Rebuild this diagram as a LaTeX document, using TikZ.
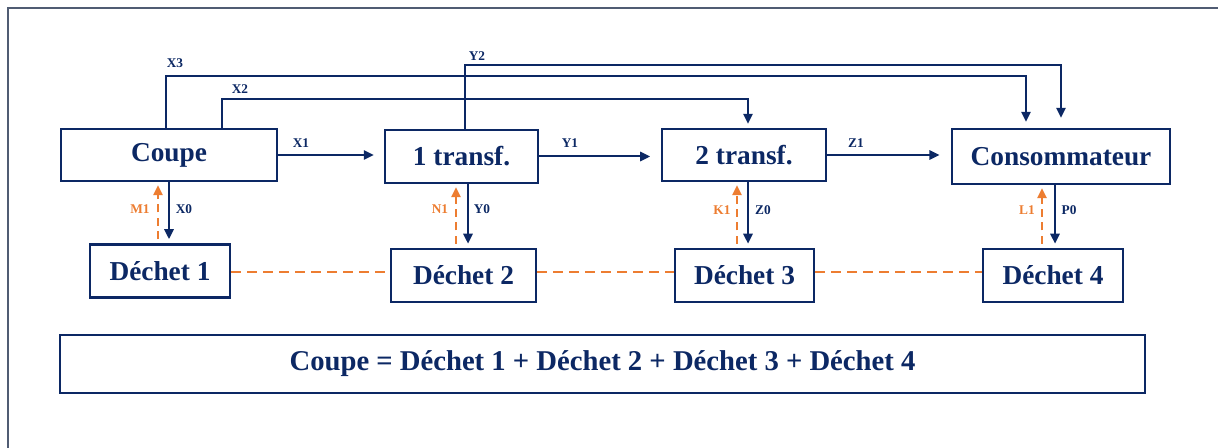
\documentclass[tikz,border=0pt]{standalone}
\usepackage{fontspec}
\setmainfont{Liberation Serif}
\usepackage{tikz}
\usepackage{xcolor}
\usetikzlibrary{arrows.meta, calc, positioning}

\definecolor{navy}{RGB}{12,40,100}
\definecolor{peche}{RGB}{237,125,49}
\definecolor{cadre}{RGB}{80,92,115}

\tikzset{
    boite/.style={draw=navy, line width=1.8pt, inner sep=0pt, text=navy, font=\bfseries\fontsize{20.5}{24}\selectfont},
    lbl/.style={inner sep=0pt, text=navy, font=\bfseries\fontsize{10}{12}\selectfont},
    lblo/.style={lbl, text=peche},
    flux/.style={draw=navy, line width=1.5pt, -{Triangle[length=7.5pt, width=7pt]}},
    retour/.style={draw=peche, line width=1.5pt, dash pattern=on 6pt off 4pt, -{Triangle[length=7.5pt, width=7pt]}},
    lien/.style={draw=peche, line width=1.5pt, dash pattern=on 7.5pt off 4.5pt}
}

\begin{document}
\begin{tikzpicture}[x=0.75pt, y=-0.75pt]
                    \path[fill=white, use as bounding box] (0,0) rectangle (1218,448);
                    \draw[cadre, line width=1.5pt] (8,448) -- (8,8) -- (1218,8);

                    \node[boite, minimum width=162pt, minimum height=39pt] (coupe) at (169,155) {Coupe};
                    \node[boite, minimum width=114.75pt, minimum height=39.75pt] (transf1) at (461.5,156.5) {1 transf.};
                    \node[boite, minimum width=123pt, minimum height=39pt] (transf2) at (744,155) {2 transf.};
                    \node[boite, minimum width=163.5pt, minimum height=41.25pt] (conso) at (1061,156.5) {Consommateur};

                    \foreach \i/\x/\y/\w in {1/160/271/105pt, 2/463.5/275.5/108.75pt, 3/744.5/275.5/104.25pt, 4/1053/275.5/105pt} {
                        \node[boite, minimum width=\w, minimum height=40pt] (dechet\i) at (\x,\y) {Déchet \i};
                    }

                    \node[boite, minimum width=813.75pt, minimum height=43.5pt, font=\bfseries\fontsize{21.5}{25}\selectfont] (somme) at (602.5,364) {Coupe = Déchet 1 + Déchet 2 + Déchet 3 + Déchet 4};

                    \coordinate (niv3) at (0,76);
                    \coordinate (niv2) at (0,99);
                    \coordinate (nivy) at (0,65);
                    \coordinate (nivd) at (0,272);

                    \draw[flux, shorten >=7.5pt] (coupe.east) -- (coupe.east -| transf1.west);
                    \draw[flux, shorten >=8pt] (transf1.east) -- (transf1.east -| transf2.west);
                    \draw[flux, shorten >=8.5pt] (transf2.east) -- (transf2.east -| conso.west);

                    \coordinate (x3a) at ($(coupe.north)+(-3,0)$);
                    \coordinate (x3b) at ($(conso.north)+(-35,0)$);
                    \coordinate (x2a) at ($(coupe.north)+(53,0)$);
                    \coordinate (x2b) at ($(transf2.north)+(4,0)$);
                    \coordinate (y2a) at ($(transf1.north)+(3.5,0)$);
                    \draw[flux, shorten >=4.5pt] (x3a) -- (x3a |- niv3) -- (x3b |- niv3) -- (x3b);
                    \draw[flux, shorten >=3pt] (x2a) -- (x2a |- niv2) -- (x2b |- niv2) -- (x2b);
                    \draw[flux, shorten >=7.5pt] (y2a) -- (y2a |- nivy) -- (conso.north |- nivy) -- (conso.north);

                    \foreach \i/\p/\a/\b in {1/coupe/9/-2, 2/transf1/4.5/-7.5, 3/transf2/3.5/-7.5, 4/conso/2/-11} {
                        \coordinate (bas\i) at ($(dechet\i.north)+(\a,0)$);
                        \coordinate (haut\i) at ($(dechet\i.north)+(\b,0)$);
                        \draw[flux, shorten >=3pt] (bas\i |- \p.south) -- (bas\i);
                        \draw[retour, shorten <=3pt, shorten >=2.25pt] (haut\i) -- (haut\i |- \p.south);
                    }

                    \foreach \i/\j in {1/2, 2/3, 3/4} {
                        \draw[lien] (dechet\i.east |- nivd) -- (dechet\j.west |- nivd);
                    }

                    \node[lbl] (lx1) at (301,143) {X1};
                    \node[lbl] (ly1) at (570,143) {Y1};
                    \node[lbl] (lz1) at (856,143) {Z1};
                    \node[lbl] (lx3) at (175,63) {X3};
                    \node[lbl] (lx2) at (240,89) {X2};
                    \node[lbl] (ly2) at (477,56) {Y2};
                    \node[lbl] (lx0) at (184,209) {X0};
                    \node[lbl] (ly0) at (482,209) {Y0};
                    \node[lbl] (lz0) at (763,210) {Z0};
                    \node[lbl] (lp0) at (1069,210) {P0};
                    \node[lblo] (lm1) at (140,209) {M1};
                    \node[lblo] (ln1) at (440,209) {N1};
                    \node[lblo] (lk1) at (722,210) {K1};
                    \node[lblo] (ll1) at (1027,210) {L1};
                \end{tikzpicture}
\end{document}
